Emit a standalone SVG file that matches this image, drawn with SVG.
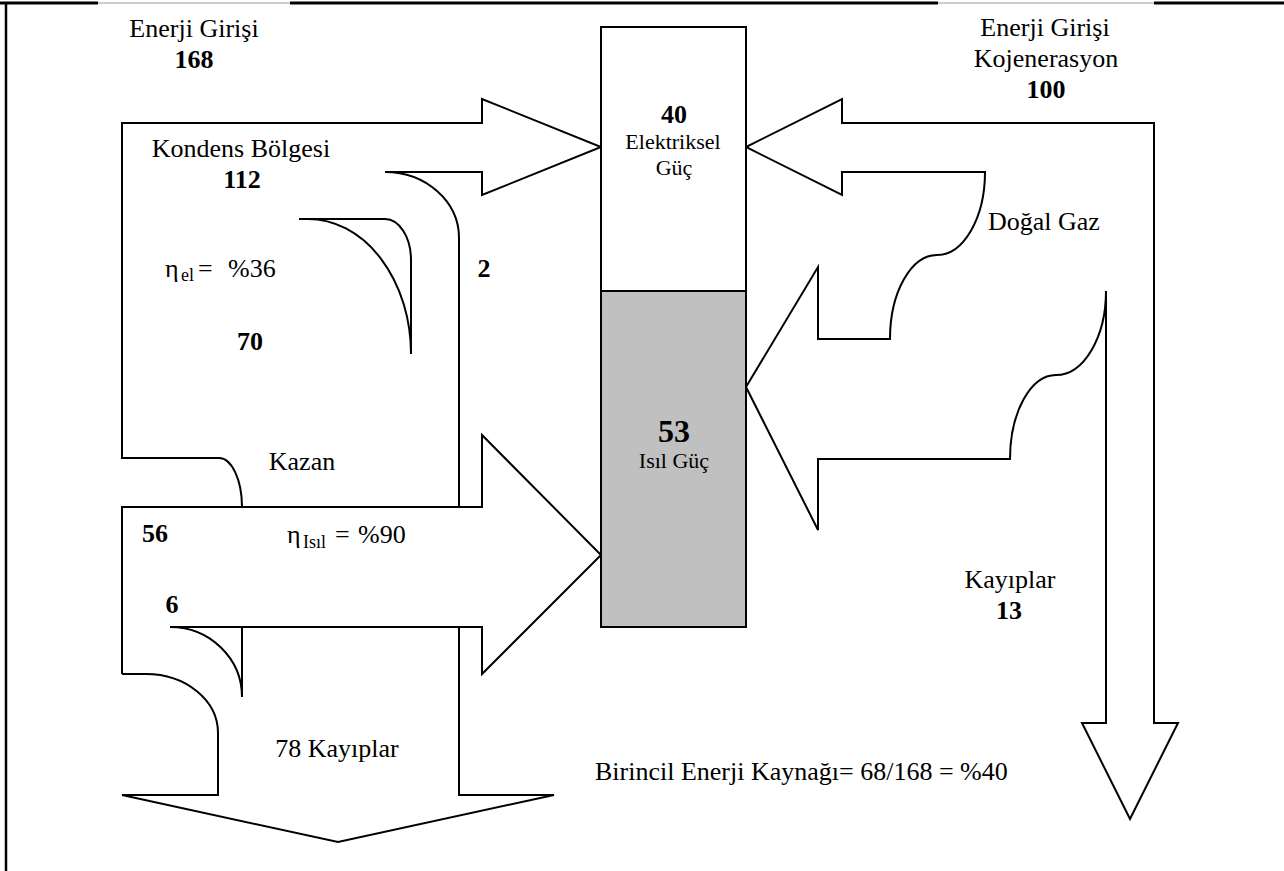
<svg xmlns="http://www.w3.org/2000/svg" width="1284" height="871" viewBox="0 0 1284 871">
<style>
  .ln { fill: none; stroke: #000; stroke-width: 2; stroke-linejoin: miter; }
  .t { font-family: "Liberation Serif", "Times New Roman", serif; font-size: 26px; fill: #000; }
  .b { font-weight: bold; }
  .m { text-anchor: middle; }
  .s { font-size: 22px; }
  .sub { font-size: 18px; }
</style>
<rect x="0" y="0" width="1284" height="871" fill="#fff"/>
<g id="frame">
  <line x1="0" y1="3" x2="1284" y2="3" stroke="#999" stroke-width="1"/>
  <line x1="0" y1="3" x2="98" y2="3" stroke="#000" stroke-width="3"/>
  <line x1="290" y1="3" x2="938" y2="3" stroke="#000" stroke-width="3"/>
  <line x1="1154" y1="3" x2="1284" y2="3" stroke="#000" stroke-width="3"/>
  <line x1="6" y1="2" x2="6" y2="871" stroke="#000" stroke-width="2.5"/>
</g>
<g id="connectors">
  <path id="flow-top-left" class="ln" d="M459,507 L459,238 A74,66 0 0 0 385,172 L482,172 L482,195 L601,147 L482,99 L482,123 L122,123 L122,458 L219,458 A23,49 0 0 1 242,507"/>
  <path id="flow-kazan" class="ln" d="M122,674 L122,507 L482,507 L482,435 L601,555 L482,674 L482,627 L170,627"/>
  <path id="flow-loss-left" class="ln" d="M146,674 L122,674 M146,674 A72,59 0 0 1 218,733 L218,795 L122,795 L338,842 L554,795 L459,795 L459,627"/>
  <path id="curve-6" class="ln" d="M170,627 A72,70 0 0 1 242,697 L242,627"/>
  <path id="curve-el" class="ln" d="M299,219 L385,219 A26,41 0 0 1 411,260 L411,354 M308,219 A103,135 0 0 1 411,354"/>
  <path id="flow-right" class="ln" d="M842,123 L1154,123 L1154,723 L1178,723 L1130,819 L1082,723 L1106,723 L1106,291 A50,84 0 0 1 1056,375 A46,84 0 0 0 1010,459 L818,459 L818,530 L746,387 L818,267 L818,339 L890,339 A47,84 0 0 1 937,255 A48,83 0 0 0 985,172 L842,172 L842,195 L746,147 L842,99 Z"/>
</g>
<g id="node-power">
  <rect x="601" y="27" width="145" height="264" fill="#fff" stroke="#000" stroke-width="2"/>
  <rect x="601" y="291" width="145" height="336" fill="#c0c0c0" stroke="#000" stroke-width="2"/>
  <text class="t b m" x="674" y="123">40</text>
  <text class="t s m" x="673" y="149">Elektriksel</text>
  <text class="t s m" x="674" y="175">Güç</text>
  <text class="t b m" x="674" y="442" style="font-size:32px">53</text>
  <text class="t s m" x="674" y="468">Isıl Güç</text>
</g>
<g id="labels-left">
  <text class="t m" x="194" y="37">Enerji Girişi</text>
  <text class="t b m" x="194" y="68">168</text>
  <text class="t m" x="241" y="157">Kondens Bölgesi</text>
  <text class="t b m" x="242" y="188">112</text>
  <text class="t" x="165" y="277">η</text>
  <text class="t sub" x="181" y="281">el</text>
  <text class="t" x="198" y="277">=</text>
  <text class="t" x="228" y="277">%36</text>
  <text class="t b m" x="484" y="277">2</text>
  <text class="t b m" x="250" y="350">70</text>
  <text class="t m" x="302" y="470">Kazan</text>
  <text class="t b m" x="155" y="542">56</text>
  <text class="t" x="287" y="543">η</text>
  <text class="t sub" x="303" y="548">Isıl</text>
  <text class="t" x="335" y="543">=</text>
  <text class="t" x="358" y="543">%90</text>
  <text class="t b m" x="172" y="613">6</text>
  <text class="t m" x="337" y="757">78 Kayıplar</text>
</g>
<g id="labels-right">
  <text class="t m" x="1045" y="36">Enerji Girişi</text>
  <text class="t m" x="1046" y="67">Kojenerasyon</text>
  <text class="t b m" x="1046" y="98">100</text>
  <text class="t" x="988" y="230">Doğal Gaz</text>
  <text class="t m" x="1010" y="588">Kayıplar</text>
  <text class="t b m" x="1009" y="619">13</text>
  <text class="t" x="595" y="780">Birincil Enerji Kaynağı= 68/168 = %40</text>
</g>
</svg>
